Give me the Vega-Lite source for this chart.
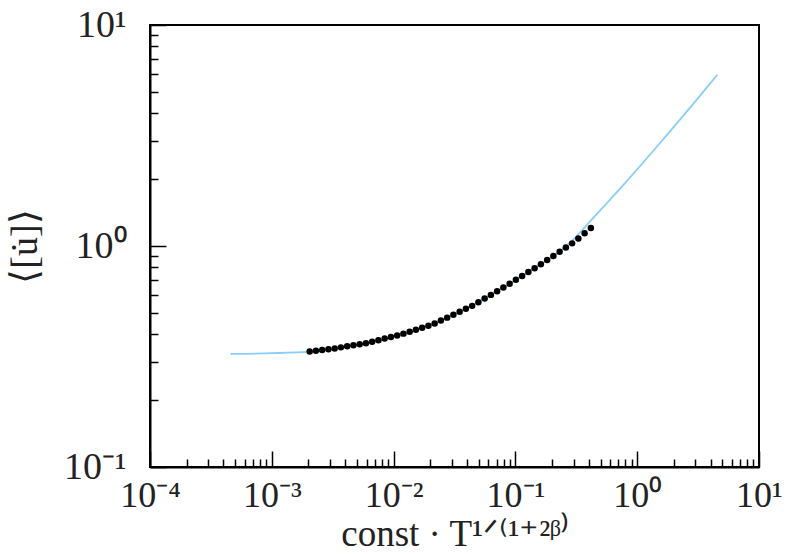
{
  "$schema": "https://vega.github.io/schema/vega-lite/v6.json",
  "width": 609,
  "height": 442,
  "autosize": "none",
  "padding": {"left": 150, "top": 25, "right": 30, "bottom": 87},
  "background": "white",
  "config": {
    "view": {"stroke": "black", "strokeWidth": 2},
    "font": "Liberation Serif"
  },
  "datasets": {
    "curve": [
      {"x": 0.0004571, "y": 0.3251}, {"x": 0.001, "y": 0.3273}, {"x": 0.002046, "y": 0.3327},
      {"x": 0.003694, "y": 0.3478}, {"x": 0.006668, "y": 0.3687}, {"x": 0.012036, "y": 0.4013},
      {"x": 0.02173, "y": 0.4459}, {"x": 0.03922, "y": 0.5197}, {"x": 0.07079, "y": 0.6246},
      {"x": 0.1278, "y": 0.7624}, {"x": 0.2307, "y": 0.945}, {"x": 0.2999, "y": 1.0715},
      {"x": 0.3864, "y": 1.247}, {"x": 0.5636, "y": 1.563}, {"x": 0.7709, "y": 1.892},
      {"x": 1.057, "y": 2.301}, {"x": 1.449, "y": 2.812}, {"x": 1.982, "y": 3.443},
      {"x": 2.818, "y": 4.325}, {"x": 3.548, "y": 5.047}, {"x": 4.55, "y": 5.957}
    ],
    "dots": [
      {"x": 0.002046, "y": 0.3334}, {"x": 0.002303, "y": 0.336}, {"x": 0.002592, "y": 0.3387},
      {"x": 0.002917, "y": 0.3413}, {"x": 0.003283, "y": 0.3441}, {"x": 0.003694, "y": 0.3478},
      {"x": 0.004157, "y": 0.3516}, {"x": 0.004679, "y": 0.3554}, {"x": 0.005266, "y": 0.3592},
      {"x": 0.005926, "y": 0.3631}, {"x": 0.006668, "y": 0.3687}, {"x": 0.007504, "y": 0.375},
      {"x": 0.008446, "y": 0.3811}, {"x": 0.009504, "y": 0.3874}, {"x": 0.010695, "y": 0.3939},
      {"x": 0.012036, "y": 0.4013}, {"x": 0.013545, "y": 0.4097}, {"x": 0.015243, "y": 0.4183},
      {"x": 0.017154, "y": 0.4271}, {"x": 0.019305, "y": 0.436}, {"x": 0.02173, "y": 0.4459},
      {"x": 0.02445, "y": 0.4598}, {"x": 0.02752, "y": 0.4741}, {"x": 0.03097, "y": 0.4888},
      {"x": 0.03485, "y": 0.504}, {"x": 0.03922, "y": 0.5197}, {"x": 0.04414, "y": 0.5359},
      {"x": 0.04967, "y": 0.5561}, {"x": 0.0559, "y": 0.5781}, {"x": 0.06291, "y": 0.6009},
      {"x": 0.07079, "y": 0.6246}, {"x": 0.07967, "y": 0.6494}, {"x": 0.08966, "y": 0.6756},
      {"x": 0.1009, "y": 0.7034}, {"x": 0.1136, "y": 0.7323}, {"x": 0.1278, "y": 0.7624},
      {"x": 0.1438, "y": 0.7937}, {"x": 0.1619, "y": 0.8265}, {"x": 0.1822, "y": 0.8634},
      {"x": 0.205, "y": 0.9018}, {"x": 0.2307, "y": 0.9419}, {"x": 0.2597, "y": 0.984},
      {"x": 0.2922, "y": 1.0278}, {"x": 0.3289, "y": 1.0822}, {"x": 0.3701, "y": 1.1423},
      {"x": 0.4165, "y": 1.205}
    ]
  },
  "encoding": {
    "x": {
      "field": "x",
      "type": "quantitative",
      "scale": {"type": "log", "domain": [0.0001, 10], "nice": false},
      "axis": {
        "title": "const · T¹ᐟ⁽¹⁺²ᵝ⁾",
        "values": [0.0001,0.0002,0.0003,0.0004,0.0005,0.0006,0.0007,0.0008,0.0009,0.001,0.002,0.003,0.004,0.005,0.006,0.007,0.008,0.009,0.01,0.02,0.03,0.04,0.05,0.06,0.07,0.08,0.09,0.1,0.2,0.3,0.4,0.5,0.6,0.7,0.8,0.9,1,2,3,4,5,6,7,8,9,10],
        "labelExpr": "abs(log(datum.value)/LN10 - round(log(datum.value)/LN10)) > 0.001 ? '' : ['10⁻⁴','10⁻³','10⁻²','10⁻¹','10⁰','10¹'][round(log(datum.value)/LN10)+4]",
        "tickSize": {"condition": {"test": "abs(log(datum.value)/LN10 - round(log(datum.value)/LN10)) < 0.001", "value": -16}, "value": -8},
        "tickColor": "black",
        "tickWidth": 1.5,
        "domainColor": "black",
        "domainWidth": 2,
        "grid": false,
        "labelFontSize": 36,
        "labelColor": "#222222",
        "labelPadding": 27,
        "labelFlush": false,
        "labelOverlap": false,
        "titleFontSize": 37,
        "titleFontWeight": "normal",
        "titleColor": "#222222",
        "titleBaseline": "alphabetic",
        "titleY": 78
      }
    },
    "y": {
      "field": "y",
      "type": "quantitative",
      "scale": {"type": "log", "domain": [0.1, 10], "nice": false},
      "axis": {
        "title": "⟨[u̇]⟩",
        "values": [0.1,0.2,0.3,0.4,0.5,0.6,0.7,0.8,0.9,1,2,3,4,5,6,7,8,9,10],
        "labelExpr": "abs(log(datum.value)/LN10 - round(log(datum.value)/LN10)) > 0.001 ? '' : ['10⁻¹','10⁰','10¹'][round(log(datum.value)/LN10)+1]",
        "tickSize": {"condition": {"test": "abs(log(datum.value)/LN10 - round(log(datum.value)/LN10)) < 0.001", "value": -16}, "value": -8},
        "tickColor": "black",
        "tickWidth": 1.5,
        "domainColor": "black",
        "domainWidth": 2,
        "grid": false,
        "labelFontSize": 38,
        "labelColor": "#222222",
        "labelPadding": 40,
        "labelFlush": false,
        "labelOverlap": false,
        "titleFontSize": 38,
        "titleFontWeight": "normal",
        "titleColor": "#222222",
        "titleBaseline": "middle",
        "titleX": -125
      }
    }
  },
  "layer": [
    {
      "data": {"name": "curve"},
      "mark": {"type": "line", "color": "#87CEFA", "strokeWidth": 1.8, "interpolate": "monotone", "clip": true}
    },
    {
      "data": {"name": "dots"},
      "mark": {"type": "circle", "color": "black", "size": 42, "opacity": 1}
    }
  ]
}
